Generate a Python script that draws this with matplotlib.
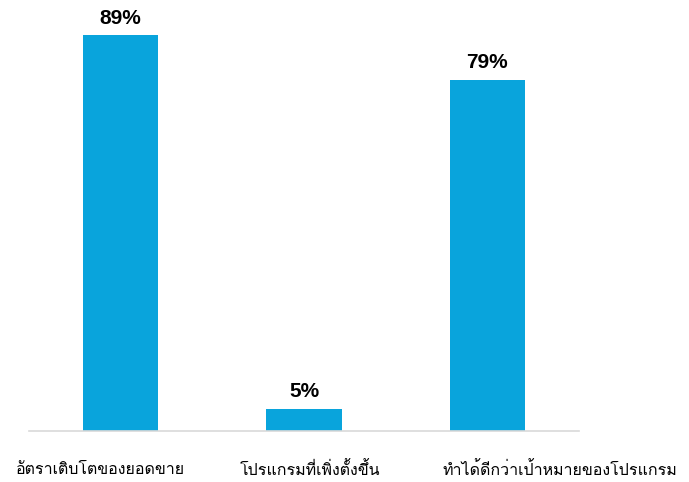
import matplotlib
matplotlib.use("Agg")
import matplotlib.pyplot as plt
from matplotlib.transforms import ScaledTranslation

# Share of programs per outcome (percent)
categories = ["อัตราเติบโตของยอดขาย", "โปรแกรมที่เพิ่งตั้งขึ้น", "ทำได้ดีกว่าเป้าหมายของโปรแกรม"]
values = [89, 5, 79]

bar_color = "#09A4DC"
# horizontal nudge of each category label, in pixels
label_shift = [-20, 6, 73]

fig = plt.figure(figsize=(6.89, 4.82), dpi=100)
ax = fig.add_axes([29 / 689, 51 / 482, 550 / 689, 400 / 482])

x = range(len(categories))
bars = ax.bar(x, values, width=0.41, color=bar_color, zorder=2)

for rect, v in zip(bars, values):
    ax.annotate(f"{v}%", (rect.get_x() + rect.get_width() / 2, v),
                xytext=(0, 5.5), textcoords="offset points",
                ha="center", va="bottom", fontsize=15, fontweight="bold",
                family=["Liberation Sans", "DejaVu Sans"])

ax.set_xlim(-0.5, 2.5)
ax.set_ylim(0, 90)
ax.set_yticks([])
ax.set_xticks(list(x))
ax.set_xticklabels(categories, family=["Loma", "Noto Sans Thai", "DejaVu Sans"], fontsize=11.5)
ax.tick_params(axis="x", length=0, pad=22)
for lbl, dx in zip(ax.get_xticklabels(), label_shift):
    lbl.set_transform(lbl.get_transform() + ScaledTranslation(dx / 100, 0, fig.dpi_scale_trans))
for side in ["top", "right", "left"]:
    ax.spines[side].set_visible(False)
ax.spines["bottom"].set_color("#D9D9D9")
ax.spines["bottom"].set_linewidth(1.2)

fig.savefig("out.png", dpi=100)
